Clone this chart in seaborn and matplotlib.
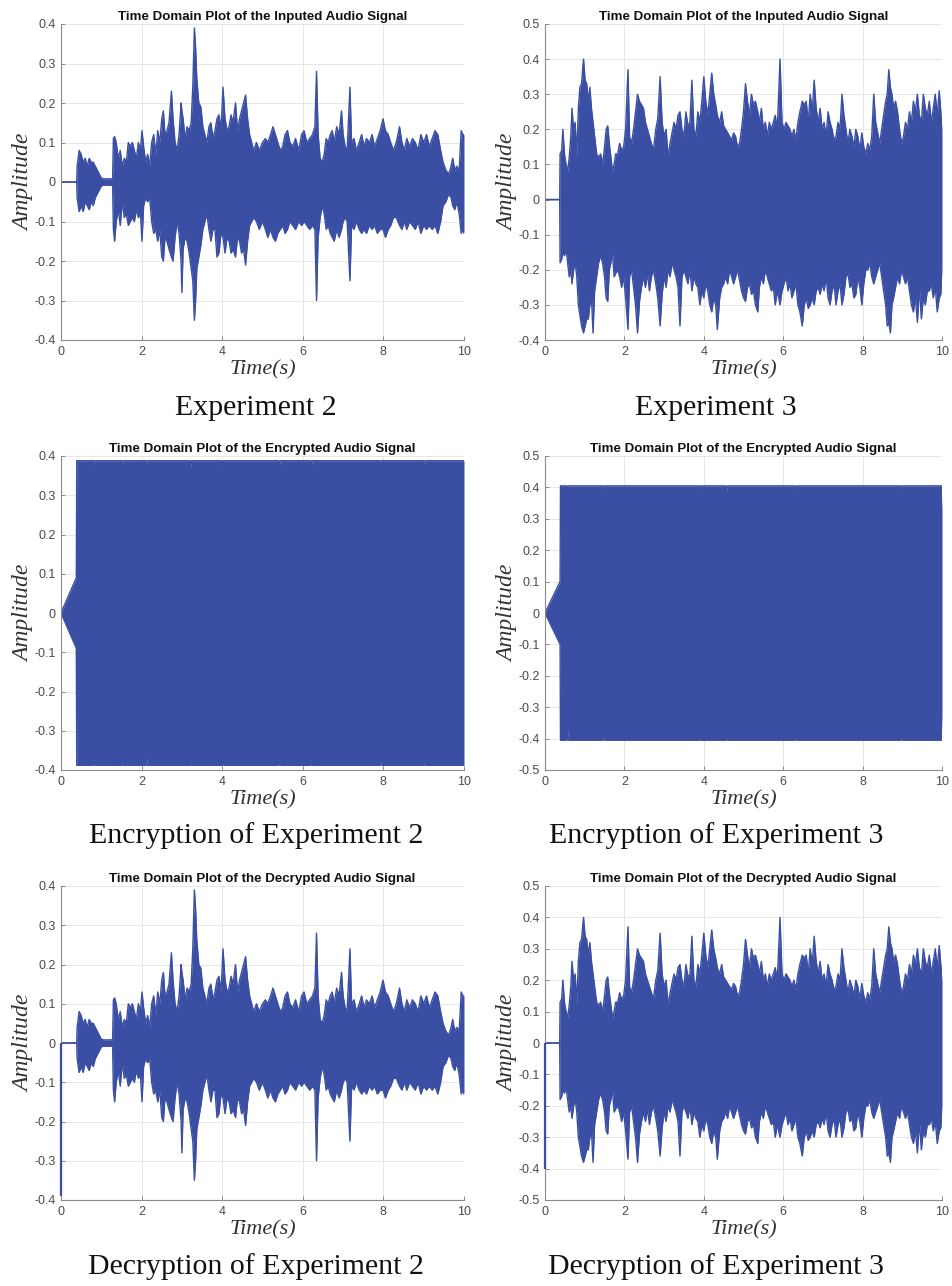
import numpy as np
import matplotlib
matplotlib.use("Agg")
import matplotlib.pyplot as plt
import seaborn as sns

# ---------------- data (envelopes) ----------------
t_exp2 = [0.00, 0.39, 0.40, 0.45, 0.50, 0.55, 0.60, 0.65, 0.70, 0.75,
          0.80, 0.85, 0.90, 0.95, 1.00, 1.05, 1.28, 1.30, 1.33, 1.37,
          1.42, 1.47, 1.52, 1.57, 1.62, 1.67, 1.72, 1.77, 1.82, 1.87,
          1.92, 1.97, 2.01, 2.05, 2.10, 2.15, 2.20, 2.25, 2.30, 2.35,
          2.40, 2.45, 2.50, 2.54, 2.58, 2.63, 2.68, 2.74, 2.78, 2.83,
          2.88, 2.93, 2.98, 3.00, 3.03, 3.08, 3.13, 3.18, 3.23, 3.27,
          3.31, 3.34, 3.37, 3.42, 3.47, 3.52, 3.57, 3.62, 3.67, 3.72,
          3.77, 3.82, 3.87, 3.92, 3.97, 4.02, 4.07, 4.12, 4.17, 4.22,
          4.27, 4.33, 4.38, 4.43, 4.48, 4.53, 4.58, 4.63, 4.68, 4.73,
          4.78, 4.85, 4.92, 5.00, 5.07, 5.13, 5.20, 5.26, 5.32, 5.38,
          5.44, 5.50, 5.56, 5.62, 5.68, 5.75, 5.82, 5.90, 5.97, 6.03,
          6.10, 6.17, 6.24, 6.30, 6.34, 6.38, 6.43, 6.48, 6.53, 6.58,
          6.63, 6.68, 6.73, 6.78, 6.84, 6.90, 6.96, 7.00, 7.05, 7.10,
          7.17, 7.21, 7.27, 7.33, 7.40, 7.46, 7.52, 7.58, 7.65, 7.72,
          7.78, 7.85, 7.92, 7.99, 8.05, 8.12, 8.18, 8.25, 8.32, 8.40,
          8.46, 8.52, 8.58, 8.65, 8.72, 8.79, 8.86, 8.93, 9.00, 9.07,
          9.14, 9.21, 9.28, 9.35, 9.42, 9.48, 9.55, 9.62, 9.68, 9.72,
          9.77, 9.82, 9.88, 9.93, 9.97, 10.0]
up_exp2 = [0.0, 0.0, 0.04, 0.08, 0.07, 0.05, 0.06, 0.04, 0.06, 0.05,
           0.05, 0.04, 0.03, 0.02, 0.01, 0.008, 0.008, 0.11, 0.115, 0.10,
           0.06, 0.08, 0.04, 0.06, 0.05, 0.10, 0.09, 0.10, 0.08, 0.06,
           0.10, 0.08, 0.13, 0.09, 0.05, 0.07, 0.04, 0.10, 0.12, 0.07,
           0.13, 0.10, 0.16, 0.18, 0.12, 0.13, 0.15, 0.23, 0.16, 0.10,
           0.08, 0.12, 0.20, 0.18, 0.16, 0.11, 0.14, 0.13, 0.15, 0.24,
           0.39, 0.34, 0.26, 0.20, 0.19, 0.14, 0.12, 0.10, 0.14, 0.15,
           0.11, 0.13, 0.16, 0.17, 0.13, 0.24, 0.16, 0.13, 0.14, 0.17,
           0.15, 0.20, 0.13, 0.16, 0.18, 0.20, 0.22, 0.16, 0.12, 0.10,
           0.08, 0.10, 0.08, 0.10, 0.11, 0.10, 0.12, 0.14, 0.12, 0.10,
           0.08, 0.09, 0.12, 0.13, 0.10, 0.09, 0.11, 0.08, 0.12, 0.13,
           0.10, 0.11, 0.12, 0.14, 0.28, 0.12, 0.06, 0.05, 0.07, 0.11,
           0.10, 0.12, 0.13, 0.10, 0.14, 0.12, 0.18, 0.12, 0.09, 0.08,
           0.24, 0.10, 0.11, 0.08, 0.10, 0.12, 0.09, 0.11, 0.10, 0.12,
           0.09, 0.11, 0.13, 0.16, 0.13, 0.12, 0.10, 0.08, 0.10, 0.14,
           0.10, 0.08, 0.11, 0.09, 0.11, 0.10, 0.08, 0.12, 0.10, 0.12,
           0.09, 0.11, 0.13, 0.12, 0.08, 0.05, 0.03, 0.02, 0.04, 0.06,
           0.03, 0.04, 0.03, 0.13, 0.12, 0.12]
lo_exp2 = [0.0, 0.0, -0.04, -0.075, -0.06, -0.075, -0.05, -0.06, -0.07, -0.05,
           -0.06, -0.04, -0.03, -0.02, -0.01, -0.008, -0.008, -0.12, -0.15, -0.10,
           -0.07, -0.11, -0.05, -0.09, -0.08, -0.11, -0.10, -0.09, -0.10, -0.07,
           -0.09, -0.08, -0.15, -0.06, -0.04, -0.05, -0.04, -0.10, -0.13, -0.12,
           -0.15, -0.12, -0.19, -0.20, -0.14, -0.15, -0.17, -0.19, -0.20, -0.14,
           -0.10, -0.13, -0.20, -0.28, -0.17, -0.14, -0.15, -0.18, -0.22, -0.25,
           -0.35, -0.30, -0.22, -0.19, -0.16, -0.12, -0.10, -0.08, -0.12, -0.15,
           -0.12, -0.12, -0.19, -0.18, -0.13, -0.14, -0.18, -0.14, -0.15, -0.18,
           -0.17, -0.19, -0.14, -0.15, -0.18, -0.17, -0.21, -0.15, -0.11, -0.10,
           -0.09, -0.10, -0.12, -0.10, -0.12, -0.14, -0.12, -0.14, -0.15, -0.13,
           -0.12, -0.11, -0.13, -0.12, -0.10, -0.11, -0.12, -0.10, -0.11, -0.10,
           -0.11, -0.12, -0.11, -0.12, -0.30, -0.14, -0.09, -0.06, -0.08, -0.12,
           -0.11, -0.13, -0.14, -0.15, -0.12, -0.14, -0.12, -0.10, -0.09, -0.10,
           -0.25, -0.11, -0.12, -0.10, -0.12, -0.13, -0.12, -0.13, -0.11, -0.12,
           -0.11, -0.13, -0.12, -0.12, -0.14, -0.12, -0.11, -0.09, -0.09, -0.11,
           -0.12, -0.10, -0.12, -0.10, -0.11, -0.12, -0.10, -0.13, -0.11, -0.12,
           -0.11, -0.12, -0.11, -0.13, -0.10, -0.06, -0.05, -0.03, -0.04, -0.06,
           -0.07, -0.05, -0.08, -0.13, -0.12, -0.13]

t_exp3 = [0.00, 0.37, 0.38, 0.42, 0.45, 0.49, 0.53, 0.57, 0.61, 0.65,
          0.68, 0.72, 0.76, 0.80, 0.84, 0.88, 0.92, 0.97, 1.01, 1.05,
          1.09, 1.13, 1.17, 1.21, 1.25, 1.30, 1.35, 1.40, 1.45, 1.50,
          1.54, 1.58, 1.62, 1.66, 1.70, 1.74, 1.78, 1.83, 1.88, 1.93,
          1.98, 2.03, 2.09, 2.13, 2.18, 2.23, 2.28, 2.33, 2.38, 2.43,
          2.48, 2.53, 2.58, 2.63, 2.68, 2.73, 2.79, 2.84, 2.90, 2.95,
          3.00, 3.05, 3.10, 3.15, 3.20, 3.25, 3.30, 3.35, 3.40, 3.45,
          3.50, 3.55, 3.60, 3.65, 3.70, 3.75, 3.80, 3.85, 3.90, 3.95,
          4.00, 4.05, 4.10, 4.15, 4.20, 4.25, 4.30, 4.34, 4.40, 4.45,
          4.50, 4.55, 4.60, 4.65, 4.70, 4.75, 4.80, 4.85, 4.90, 4.95,
          5.00, 5.05, 5.10, 5.15, 5.20, 5.25, 5.30, 5.36, 5.40, 5.45,
          5.50, 5.55, 5.60, 5.65, 5.70, 5.75, 5.80, 5.85, 5.92, 5.97,
          6.02, 6.07, 6.12, 6.17, 6.22, 6.27, 6.32, 6.37, 6.42, 6.48,
          6.53, 6.58, 6.63, 6.68, 6.73, 6.78, 6.83, 6.88, 6.93, 6.98,
          7.03, 7.08, 7.13, 7.18, 7.23, 7.28, 7.33, 7.38, 7.43, 7.48,
          7.53, 7.58, 7.63, 7.68, 7.73, 7.78, 7.83, 7.88, 7.93, 7.98,
          8.03, 8.08, 8.13, 8.18, 8.23, 8.28, 8.33, 8.38, 8.43, 8.48,
          8.53, 8.58, 8.62, 8.66, 8.70, 8.74, 8.78, 8.83, 8.88, 8.93,
          8.98, 9.03, 9.08, 9.13, 9.18, 9.23, 9.28, 9.33, 9.38, 9.43,
          9.48, 9.53, 9.58, 9.63, 9.68, 9.73, 9.78, 9.83, 9.88, 9.93,
          9.97, 10.0]
up_exp3 = [0.0, 0.0, 0.13, 0.14, 0.20, 0.13, 0.10, 0.08, 0.12, 0.18,
           0.26, 0.20, 0.22, 0.12, 0.26, 0.32, 0.33, 0.40, 0.34, 0.33,
           0.28, 0.32, 0.26, 0.22, 0.18, 0.13, 0.12, 0.13, 0.10, 0.15,
           0.20, 0.21, 0.16, 0.12, 0.08, 0.10, 0.13, 0.13, 0.16, 0.14,
           0.15, 0.20, 0.37, 0.18, 0.16, 0.20, 0.25, 0.30, 0.28, 0.27,
           0.26, 0.22, 0.20, 0.18, 0.16, 0.14, 0.20, 0.23, 0.35, 0.22,
           0.18, 0.20, 0.12, 0.16, 0.19, 0.22, 0.20, 0.24, 0.25, 0.20,
           0.18, 0.25, 0.21, 0.22, 0.34, 0.20, 0.18, 0.25, 0.22, 0.28,
           0.35, 0.28, 0.24, 0.30, 0.36, 0.30, 0.27, 0.24, 0.22, 0.25,
           0.21, 0.20, 0.19, 0.18, 0.17, 0.19, 0.18, 0.15, 0.16, 0.20,
           0.25, 0.33, 0.28, 0.24, 0.30, 0.27, 0.28, 0.25, 0.22, 0.26,
           0.20, 0.22, 0.18, 0.22, 0.20, 0.22, 0.24, 0.20, 0.40, 0.22,
           0.20, 0.22, 0.21, 0.20, 0.18, 0.20, 0.17, 0.22, 0.25, 0.28,
           0.27, 0.28, 0.22, 0.30, 0.25, 0.34, 0.26, 0.22, 0.26, 0.20,
           0.22, 0.18, 0.25, 0.22, 0.20, 0.17, 0.18, 0.22, 0.20, 0.30,
           0.24, 0.20, 0.16, 0.20, 0.18, 0.15, 0.20, 0.18, 0.14, 0.19,
           0.15, 0.13, 0.16, 0.14, 0.18, 0.30, 0.22, 0.19, 0.16, 0.20,
           0.24, 0.28, 0.30, 0.37, 0.32, 0.30, 0.26, 0.28, 0.25, 0.20,
           0.16, 0.18, 0.22, 0.20, 0.25, 0.22, 0.28, 0.25, 0.30, 0.24,
           0.22, 0.30, 0.26, 0.24, 0.28, 0.22, 0.26, 0.30, 0.24, 0.31,
           0.25, 0.20]
lo_exp3 = [0.0, 0.0, -0.18, -0.17, -0.15, -0.16, -0.14, -0.18, -0.22, -0.20,
           -0.24, -0.20, -0.18, -0.22, -0.30, -0.33, -0.36, -0.38, -0.36, -0.34,
           -0.34, -0.30, -0.28, -0.38, -0.26, -0.22, -0.18, -0.16, -0.18, -0.22,
           -0.28, -0.29, -0.20, -0.18, -0.15, -0.22, -0.21, -0.20, -0.22, -0.25,
           -0.22, -0.28, -0.37, -0.22, -0.20, -0.25, -0.30, -0.38, -0.29, -0.25,
           -0.22, -0.25, -0.21, -0.26, -0.22, -0.20, -0.24, -0.28, -0.36, -0.27,
           -0.22, -0.25, -0.20, -0.22, -0.18, -0.20, -0.22, -0.25, -0.36, -0.22,
           -0.20, -0.22, -0.24, -0.20, -0.26, -0.22, -0.24, -0.25, -0.30, -0.26,
           -0.28, -0.24, -0.26, -0.30, -0.32, -0.28, -0.30, -0.37, -0.28, -0.25,
           -0.24, -0.22, -0.24, -0.20, -0.22, -0.24, -0.22, -0.20, -0.23, -0.26,
           -0.28, -0.29, -0.25, -0.24, -0.27, -0.26, -0.30, -0.32, -0.25, -0.22,
           -0.24, -0.20, -0.22, -0.24, -0.26, -0.25, -0.30, -0.26, -0.30, -0.26,
           -0.24, -0.22, -0.26, -0.24, -0.28, -0.26, -0.24, -0.30, -0.32, -0.36,
           -0.30, -0.28, -0.31, -0.30, -0.28, -0.30, -0.26, -0.25, -0.27, -0.24,
           -0.26, -0.22, -0.28, -0.30, -0.26, -0.24, -0.30, -0.26, -0.24, -0.30,
           -0.27, -0.22, -0.21, -0.25, -0.24, -0.28, -0.27, -0.22, -0.25, -0.30,
           -0.24, -0.20, -0.20, -0.18, -0.22, -0.24, -0.22, -0.20, -0.18, -0.22,
           -0.26, -0.30, -0.36, -0.35, -0.38, -0.30, -0.28, -0.25, -0.22, -0.24,
           -0.20, -0.22, -0.24, -0.22, -0.26, -0.30, -0.32, -0.28, -0.35, -0.25,
           -0.34, -0.28, -0.30, -0.26, -0.26, -0.24, -0.28, -0.25, -0.32, -0.28,
           -0.27, -0.20]

t_enc2 = [0.00, 0.38, 0.39, 0.80, 0.82, 0.84, 1.50, 1.52, 1.54, 2.10, 2.12,
          2.14, 3.20, 3.22, 3.24, 4.00, 4.02, 4.04, 5.40, 5.42, 5.44, 6.20,
          6.22, 6.24, 7.90, 7.92, 7.94, 9.00, 9.02, 9.04, 10.0]
up_enc2 = [0.0, 0.09, 0.388, 0.388, 0.372, 0.388, 0.388, 0.378, 0.388, 0.388, 0.380,
           0.388, 0.388, 0.372, 0.388, 0.388, 0.375, 0.388, 0.388, 0.376, 0.388, 0.388,
           0.380, 0.388, 0.388, 0.378, 0.388, 0.388, 0.380, 0.388, 0.388]
lo_enc2 = [0.0, -0.09, -0.388, -0.388, -0.380, -0.388, -0.388, -0.382, -0.388, -0.388, -0.365,
           -0.388, -0.388, -0.380, -0.388, -0.388, -0.382, -0.388, -0.388, -0.378, -0.388, -0.388,
           -0.380, -0.388, -0.388, -0.365, -0.388, -0.388, -0.380, -0.388, -0.388]

t_enc3 = [0.00, 0.38, 0.39, 0.55, 0.57, 0.59, 1.45, 1.47, 1.49, 3.90, 3.92, 3.94,
          4.55, 4.57, 4.59, 6.30, 6.32, 6.34, 8.95, 8.97, 8.99, 9.98, 10.0]
up_enc3 = [0.0, 0.10, 0.405, 0.405, 0.400, 0.405, 0.405, 0.395, 0.405, 0.405, 0.395, 0.405,
           0.405, 0.385, 0.405, 0.405, 0.395, 0.405, 0.405, 0.380, 0.405, 0.405, 0.33]
lo_enc3 = [0.0, -0.10, -0.405, -0.405, -0.37, -0.405, -0.405, -0.39, -0.405, -0.405, -0.398, -0.405,
           -0.405, -0.395, -0.405, -0.405, -0.398, -0.405, -0.405, -0.395, -0.405, -0.405, -0.33]

# decrypted signals: same as input plus an initial sample at t = 0
dec_start2 = -0.39
dec_start3 = -0.40

titles = ["Time Domain Plot of the Inputed Audio Signal",
          "Time Domain Plot of the Encrypted Audio Signal",
          "Time Domain Plot of the Decrypted Audio Signal"]
captions_left = ["Experiment 2", "Encryption of Experiment 2", "Decryption of Experiment 2"]
captions_right = ["Experiment 3", "Encryption of Experiment 3", "Decryption of Experiment 3"]
xticks = [0, 2, 4, 6, 8, 10]
yticks_left = [-0.4, -0.3, -0.2, -0.1, 0.0, 0.1, 0.2, 0.3, 0.4]
yticks_right_top = [-0.4, -0.3, -0.2, -0.1, 0.0, 0.1, 0.2, 0.3, 0.4, 0.5]
yticks_right = [-0.5, -0.4, -0.3, -0.2, -0.1, 0.0, 0.1, 0.2, 0.3, 0.4, 0.5]

# ---------------- style ----------------
sns.set_style("whitegrid")
plt.rcParams["font.family"] = ["Liberation Sans", "DejaVu Sans"]

COLOR = "#3a4fa3"
W, H = 952, 1286
fig = plt.figure(figsize=(W / 100, H / 100), dpi=100)
fig.patch.set_facecolor("white")

col_left = (61, 464)
col_right = (545, 942)
rows = [(24, 340), (456, 770), (886, 1200)]
cap_y = [408, 836, 1267]
cap_x = [256, 716]


def make_ax(col, row):
    l, r = col
    t, b = row
    return fig.add_axes([l / W, 1 - b / H, (r - l) / W, (b - t) / H])


def style(ax, yt, title):
    ax.set_xlim(0, 10)
    ax.set_ylim(yt[0], yt[-1])
    ax.set_xticks(xticks)
    ax.set_xticklabels([str(v) for v in xticks])
    ax.set_yticks(yt)
    ax.set_yticklabels(["{:g}".format(round(v, 1)) for v in yt])
    ax.grid(True, color="#e3e3e3", lw=0.6)
    ax.set_axisbelow(True)
    for s in ["top", "right"]:
        ax.spines[s].set_visible(False)
    for s in ["left", "bottom"]:
        ax.spines[s].set_visible(True)
        ax.spines[s].set_color("#8a8a8a")
        ax.spines[s].set_linewidth(0.8)
    ax.tick_params(direction="in", length=3, width=0.7, color="#8a8a8a",
                   labelcolor="#4a4a4a", labelsize=9, pad=4,
                   left=True, bottom=True)
    ax.set_title(title, fontsize=9.6, fontweight="bold", color="#111111", pad=3)
    ax.set_xlabel("Time(s)", family="Liberation Serif", style="italic",
                  fontsize=16, color="#333333", labelpad=2)
    ax.set_ylabel("Amplitude", family="Liberation Serif", style="italic",
                  fontsize=17, color="#333333", labelpad=0)
    ax.set_facecolor("white")


def draw(ax, t, up, lo, start=None):
    ax.fill_between(t, lo, up, color=COLOR, lw=0)
    sns.lineplot(x=t, y=up, ax=ax, color=COLOR, lw=1.0, estimator=None, sort=False)
    sns.lineplot(x=t, y=lo, ax=ax, color=COLOR, lw=1.0, estimator=None, sort=False)
    if start is not None:
        ax.vlines(t[0], start, 0, color=COLOR, lw=1.6, zorder=4, clip_on=False)


panels = [
    (col_left, 0, t_exp2, up_exp2, lo_exp2, None, yticks_left),
    (col_right, 0, t_exp3, up_exp3, lo_exp3, None, yticks_right_top),
    (col_left, 1, t_enc2, up_enc2, lo_enc2, None, yticks_left),
    (col_right, 1, t_enc3, up_enc3, lo_enc3, None, yticks_right),
    (col_left, 2, t_exp2, up_exp2, lo_exp2, dec_start2, yticks_left),
    (col_right, 2, t_exp3, up_exp3, lo_exp3, dec_start3, yticks_right),
]

for col, r, t, up, lo, start, yt in panels:
    ax = make_ax(col, rows[r])
    draw(ax, t, up, lo, start)
    style(ax, yt, titles[r])

for r in range(3):
    fig.text(cap_x[0] / W, 1 - cap_y[r] / H, captions_left[r], ha="center", va="center",
             fontsize=21.5, family="Liberation Serif", color="#111111")
    fig.text(cap_x[1] / W, 1 - cap_y[r] / H, captions_right[r], ha="center", va="center",
             fontsize=21.5, family="Liberation Serif", color="#111111")

fig.savefig("out.png", dpi=100, facecolor="white")
